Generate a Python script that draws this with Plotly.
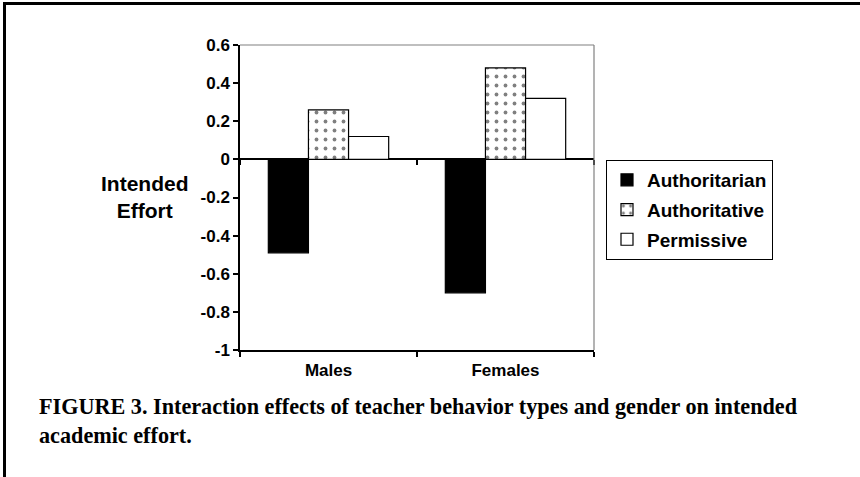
import plotly.graph_objects as go

categories = ["Males", "Females"]
authoritarian = [-0.49, -0.70]
authoritative = [0.26, 0.48]
permissive = [0.12, 0.32]
y_tickvals = [0.6, 0.4, 0.2, 0, -0.2, -0.4, -0.6, -0.8, -1]
y_ticktext = ["0.6", "0.4", "0.2", "0", "-0.2", "-0.4", "-0.6", "-0.8", "-1"]
caption_1 = "FIGURE 3. Interaction effects of teacher behavior types and gender on intended"
caption_2 = "academic effort."
y_title = "Intended<br>Effort"

SANS = "Liberation Sans, Arial, sans-serif"
SERIF = "Liberation Serif, Times New Roman, serif"

W, H = 860, 477
L, R, T, B = 240, 266, 45, 127
PW, PH = W - L - R, H - T - B


def px_x(x):
    return (x - L) / PW


def px_y(y):
    return (H - B - y) / PH


fig = go.Figure()
fig.add_trace(go.Bar(
    x=categories, y=authoritarian, name="Authoritarian", legendgroup="a",
    marker=dict(color="black", line=dict(color="black", width=1.2)),
))
fig.add_trace(go.Bar(
    x=categories, y=authoritative, name="Authoritative", legendgroup="b",
    marker=dict(color="white", line=dict(color="black", width=1.2),
                pattern=dict(shape=".", fgcolor="black", bgcolor="white",
                             size=9, solidity=0.14)),
))
fig.add_trace(go.Bar(
    x=categories, y=permissive, name="Permissive", legendgroup="c",
    marker=dict(color="white", line=dict(color="black", width=1.2)),
))
# empty helper trace so the zero-line tick axis is drawn
fig.add_trace(go.Scatter(x=[None], y=[None], xaxis="x2", showlegend=False,
                         hoverinfo="skip", mode="markers"))

fig.update_layout(
    width=W, height=H,
    margin=dict(l=L, r=R, t=T, b=B),
    paper_bgcolor="white", plot_bgcolor="white",
    barmode="group", bargap=0.32, bargroupgap=0,
    showlegend=True,
    legend=dict(
        x=px_x(606), xanchor="left", y=px_y(160), yanchor="top",
        bordercolor="black", borderwidth=1, bgcolor="white",
        font=dict(family=SANS, size=19, color="black", weight="bold"),
        traceorder="grouped", tracegroupgap=2,
    ),
    xaxis=dict(
        type="category", range=[-0.5, 1.5],
        showline=True, linecolor="black", linewidth=1.5,
        ticks="outside", tickson="boundaries", ticklen=5, tickcolor="black", tickwidth=1.5,
        showgrid=False, zeroline=False, ticklabelstandoff=4,
        tickfont=dict(family=SANS, size=17, color="black", weight="bold"),
    ),
    xaxis2=dict(
        overlaying="x", anchor="free", position=0.625, range=[-0.5, 1.5],
        tickvals=[-0.5, 0.5, 1.5], ticks="outside", ticklen=5, tickcolor="black", tickwidth=1.5,
        showticklabels=False, showgrid=False, zeroline=False, showline=False,
    ),
    yaxis=dict(
        range=[-1, 0.6], tickvals=y_tickvals, ticktext=y_ticktext,
        showline=True, linecolor="black", linewidth=1.5,
        ticks="outside", ticklen=5, tickcolor="black", tickwidth=1.5,
        showgrid=False, zeroline=True, zerolinecolor="black", zerolinewidth=1.5,
        tickfont=dict(family=SANS, size=17, color="black", weight="bold"),
    ),
    shapes=[
        dict(type="line", xref="paper", yref="paper", x0=0, x1=1, y0=1, y1=1,
             line=dict(color="#808080", width=1.2)),
        dict(type="line", xref="paper", yref="paper", x0=1, x1=1, y0=0, y1=1,
             line=dict(color="#808080", width=1.2)),
        dict(type="line", xref="paper", yref="paper",
             x0=px_x(3), x1=px_x(W), y0=px_y(3.5), y1=px_y(3.5),
             line=dict(color="black", width=3)),
        dict(type="line", xref="paper", yref="paper",
             x0=px_x(4.5), x1=px_x(4.5), y0=px_y(2), y1=px_y(H),
             line=dict(color="black", width=3)),
    ],
    annotations=[
        dict(text=y_title, xref="paper", yref="paper", x=px_x(145), y=px_y(197),
             xanchor="center", yanchor="middle", showarrow=False, align="center",
             font=dict(family=SANS, size=21, color="black", weight="bold")),
        dict(text=caption_1, xref="paper", yref="paper", x=px_x(37),
             y=px_y(407), xanchor="left", yanchor="middle", showarrow=False,
             font=dict(family=SERIF, size=22.2, color="black", weight="bold")),
        dict(text=caption_2, xref="paper", yref="paper", x=px_x(37),
             y=px_y(435), xanchor="left", yanchor="middle", showarrow=False,
             font=dict(family=SERIF, size=22.2, color="black", weight="bold")),
    ],
)

fig.write_html("out.html", config={"displayModeBar": False},
               post_script="document.body.style.margin='0';document.body.style.overflow='hidden';")
